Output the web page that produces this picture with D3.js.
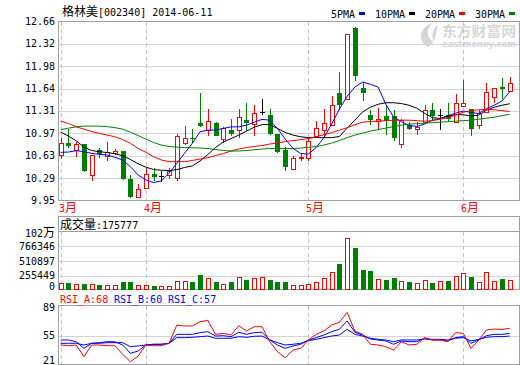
<!DOCTYPE html>
<html><head><meta charset="utf-8">
<script src="https://cdn.jsdelivr.net/npm/d3@7"></script>
<style>body{margin:0;background:#fff}svg{display:block}</style>
</head><body><svg id="c" width="520" height="365"></svg>
<script>
// ---------- data ----------
const openP  = [10.64,10.82,10.71,10.80,10.34,10.71,10.63,10.67,10.70,10.27,10.01,10.14,10.35,10.32,10.33,10.29,10.82,10.90,11.12,11.02,11.13,10.88,11.02,11.02,11.17,11.11,11.29,11.24,10.96,10.71,10.43,10.60,10.60,10.93,11.01,11.10,11.58,11.48,12.56,11.66,11.24,11.15,11.23,11.23,10.80,11.10,11.04,11.14,11.32,11.25,11.25,11.14,11.38,11.34,11.10,11.29,11.52,11.67,11.61];
const highP  = [10.89,11.03,10.84,10.81,10.64,10.74,10.84,10.73,10.70,10.34,10.20,10.44,10.44,10.40,10.44,10.96,11.08,11.03,11.58,11.34,11.14,11.06,11.19,11.34,11.42,11.39,11.48,11.34,10.96,10.76,10.62,10.67,10.90,11.15,11.33,11.53,11.89,12.47,12.58,11.75,11.32,11.35,11.39,11.32,11.19,11.14,11.14,11.39,11.42,11.33,11.43,11.56,11.77,11.34,11.32,11.73,11.66,11.80,11.82];
const lowP   = [10.58,10.75,10.61,10.38,10.24,10.60,10.55,10.64,10.26,9.99,10.01,10.12,10.25,10.23,10.28,10.25,10.79,10.82,11.07,10.93,10.92,10.82,10.93,10.90,11.00,10.92,11.24,10.94,10.67,10.39,10.42,10.55,10.55,10.92,10.92,11.08,11.32,11.48,11.76,11.46,11.09,11.02,10.94,10.85,10.75,11.02,10.94,11.12,11.15,11.02,11.16,11.12,11.37,10.93,11.04,11.27,11.43,11.48,11.59];
const closeP = [10.82,10.78,10.80,10.39,10.64,10.66,10.68,10.70,10.28,10.01,10.12,10.35,10.31,10.32,10.40,10.92,10.89,10.89,11.08,11.16,10.93,11.05,10.96,11.22,11.13,11.28,11.29,10.96,10.68,10.46,10.60,10.61,10.85,11.05,11.13,11.39,11.40,12.47,11.83,11.58,11.17,11.19,11.15,10.90,11.17,11.04,11.07,11.32,11.23,11.25,11.19,11.43,11.42,11.04,11.27,11.59,11.66,11.64,11.73];
const volume = [124700,135000,112600,117800,112600,100400,100400,95200,147200,147200,95200,95200,83100,77900,77900,169700,169700,147200,268400,211300,142000,112600,142000,228600,181800,211300,239000,181800,142000,142000,95200,95200,107400,142000,211300,315200,458900,904000,741200,355000,337700,199200,181800,216500,164500,142000,124700,176600,129900,164500,164500,251100,297900,239000,142000,315200,164500,199200,175777];
const ma5  = [10.679,10.684,10.704,10.689,10.664,10.649,10.639,10.604,10.563,10.462,10.337,10.262,10.221,10.247,10.363,10.513,10.664,10.815,10.990,11.016,11.016,11.041,11.065,11.065,11.091,11.136,11.178,11.166,11.041,10.880,10.740,10.661,10.654,10.752,10.902,11.106,11.332,11.528,11.668,11.743,11.709,11.668,11.407,11.216,11.144,11.086,11.071,11.106,11.166,11.184,11.234,11.272,11.305,11.284,11.267,11.343,11.392,11.456,11.596];
const ma10 = [10.985,10.925,10.854,10.759,10.707,10.689,10.676,10.658,10.627,10.571,10.506,10.455,10.419,10.408,10.402,10.417,10.450,10.473,10.548,10.646,10.752,10.835,10.887,10.940,11.000,11.060,11.098,11.101,11.041,10.981,10.940,10.915,10.902,10.902,10.902,10.902,10.918,11.046,11.166,11.291,11.362,11.407,11.430,11.430,11.418,11.392,11.347,11.272,11.204,11.192,11.227,11.249,11.249,11.227,11.242,11.317,11.362,11.392,11.415];
const ma20 = [11.151,11.116,11.065,11.031,10.993,10.966,10.940,10.915,10.872,10.815,10.740,10.679,10.613,10.563,10.538,10.538,10.538,10.556,10.578,10.598,10.631,10.661,10.699,10.729,10.752,10.767,10.782,10.805,10.820,10.842,10.857,10.872,10.887,10.915,10.948,10.978,11.016,11.053,11.098,11.136,11.144,11.151,11.159,11.166,11.166,11.166,11.159,11.151,11.159,11.181,11.204,11.242,11.287,11.309,11.324,11.327,11.324,11.312,11.297];
const ma30 = [11.023,11.046,11.065,11.076,11.076,11.076,11.068,11.053,11.031,10.985,10.933,10.880,10.827,10.790,10.767,10.759,10.752,10.749,10.744,10.737,10.722,10.707,10.699,10.699,10.707,10.719,10.729,10.737,10.737,10.737,10.737,10.744,10.755,10.767,10.790,10.820,10.857,10.902,10.940,10.970,11.000,11.023,11.046,11.068,11.091,11.106,11.113,11.121,11.129,11.136,11.144,11.151,11.159,11.166,11.181,11.196,11.211,11.234,11.257];
const rsiA = [44.4,43.6,44.4,31.4,44.4,44.4,43.6,43.6,34.0,25.8,32.1,44.4,43.6,43.6,46.3,66.7,65.6,65.6,70.4,71.9,56.3,57.4,55.6,65.9,60.0,64.8,64.8,48.1,37.0,30.3,38.8,40.7,50.0,56.3,60.0,66.7,69.7,80.8,60.0,56.3,45.2,44.4,42.5,38.8,48.1,44.4,45.2,52.6,50.0,50.0,48.1,58.2,57.4,40.7,50.0,61.1,62.2,61.8,63.0];
const rsiB = [50.0,50.0,48.1,40.7,46.3,47.0,48.1,48.1,44.4,35.1,37.7,44.4,45.2,45.2,46.3,56.3,56.3,56.3,58.2,59.3,54.4,54.8,53.7,58.6,56.3,58.2,58.6,50.0,44.4,40.7,43.3,45.2,50.0,52.6,55.6,59.3,61.9,71.2,58.6,55.6,51.1,50.0,48.9,45.2,48.9,48.1,48.1,51.9,50.0,50.0,48.9,52.6,53.7,46.3,50.0,54.8,56.3,56.3,57.4];
const rsiC = [46.3,46.3,46.3,44.4,46.3,46.3,47.0,47.0,47.0,42.5,43.3,44.4,45.2,45.2,46.3,52.6,52.6,53.0,53.7,54.4,51.9,51.9,51.9,53.7,53.0,54.1,54.4,50.0,47.0,44.4,45.2,46.3,49.3,50.7,52.6,54.4,55.6,61.9,56.3,54.4,51.9,50.7,50.0,48.1,50.0,50.0,50.0,51.1,50.7,50.7,50.0,51.9,52.6,48.9,50.7,53.0,53.7,53.7,54.4];
const monthLabels = ["3月","4月","5月","6月"];
const monthStart  = [0,11,32,52];
const priceTickLabels = ["12.66","12.32","11.98","11.64","11.31","10.97","10.63","10.29","9.95"];
const volTickValues = [1021795,766346,510897,255449,0];
const volTickLabels = ["102万","766346","510897","255449","0"];
const rsiTickValues = [89,55,21];
const maNames = ["5PMA","10PMA","20PMA","30PMA"];
const maColors = ["#0000ff","#000000","#ff0000","#008000"];
const titleText = "格林美[002340] 2014-06-11";
const volTitle = "成交量:175777";
const rsiTitles = ["RSI_A:68","RSI_B:60","RSI_C:57"];
const rsiColors = ["#ff0000","#0000ff","#0000ff"];

// ---------- layout ----------
const svg = d3.select("#c");
const L = 58.5, R = 519.5;
const P = {top:21.5, bottom:200.5};
const V = {top:216.5, head:231.5, bottom:289.5};
const S = {top:305.5, bottom:364.5};
const MONO = "'DejaVu Sans Mono', 'Liberation Mono', monospace";
const CJK = "'Noto Sans CJK SC', sans-serif";
const border = "#a0a0a0", grid = "#d4d4d4";

const n = closeP.length;
const x = d3.scaleLinear().domain([0, n-1]).range([60.7, 509.7]);
const yP = d3.scaleLinear().domain([9.95, 12.66]).range([P.bottom, P.top]);
const yV = d3.scaleLinear().domain([0, 1021795]).range([290.5, V.head]);
const yR = d3.scaleLinear().domain([21, 89]).range([366, 305]);

function mixedText(g, str, xx, yy, color, anchor) {
  const t = g.append("text").attr("x", xx).attr("y", yy).attr("fill", color)
    .attr("text-anchor", anchor || "start");
  const runs = str.match(/[\u3000-\u9fff\uff00-\uffef]+|[^\u3000-\u9fff\uff00-\uffef]+/g);
  runs.forEach(r => {
    const cjk = /[\u3000-\u9fff]/.test(r);
    t.append("tspan").text(r)
      .attr("font-family", cjk ? CJK : MONO)
      .attr("font-size", cjk ? 12 : 10);
  });
  return t;
}

svg.append("rect").attr("width",520).attr("height",365).attr("fill","#fff");

// ---------- watermark ----------
const wm = svg.append("g").attr("fill","#d6d6d6");
wm.append("path").attr("d","M428,47 C417,41 419,28 432,23 C426,30 426,38 434,42 C430,34 434,28 438,25 C436,34 436,42 428,47 Z");
wm.append("text").attr("x",442).attr("y",36).attr("font-family",CJK).attr("font-weight","bold").attr("font-size",14)
  .attr("textLength",74).attr("lengthAdjust","spacingAndGlyphs").text("东方财富网");
wm.append("text").attr("x",442).attr("y",47).attr("font-family","'DejaVu Sans', sans-serif").attr("font-weight","bold").attr("font-size",8)
  .attr("textLength",74).attr("lengthAdjust","spacingAndGlyphs").text("eastmoney.com");

// ---------- grid & frames ----------
const gg = svg.append("g").attr("shape-rendering","crispEdges");
priceTickLabels.forEach((lab,i) => {
  if (i===0 || i===priceTickLabels.length-1) return;
  gg.append("line").attr("x1",L).attr("x2",R).attr("y1",Math.round(yP(+lab))+0.5).attr("y2",Math.round(yP(+lab))+0.5).attr("stroke",grid);
});
volTickValues.slice(1,4).forEach(v => {
  gg.append("line").attr("x1",L).attr("x2",R).attr("y1",Math.round(yV(v))+0.5).attr("y2",Math.round(yV(v))+0.5).attr("stroke",grid);
});
gg.append("line").attr("x1",L).attr("x2",R).attr("y1",Math.round(yR(55))+0.5).attr("y2",Math.round(yR(55))+0.5).attr("stroke",grid);
// month dashed lines
monthStart.forEach(mi => {
  const xx = Math.round(x(mi))+0.5;
  [[P.top,P.bottom],[V.head,V.bottom],[S.top,S.bottom]].forEach(([a,b]) => {
    gg.append("line").attr("x1",xx).attr("x2",xx).attr("y1",a).attr("y2",b)
      .attr("stroke","#c4c4c4").attr("stroke-dasharray","4,3");
  });
});
// frames
[[P.top,P.bottom],[V.top,V.bottom],[S.top,S.bottom]].forEach(([a,b]) => {
  gg.append("rect").attr("x",L).attr("y",a).attr("width",R-L).attr("height",b-a)
    .attr("fill","none").attr("stroke",border);
});
gg.append("line").attr("x1",L).attr("x2",R).attr("y1",V.head).attr("y2",V.head).attr("stroke",border);

// ---------- axis labels ----------
const ax = svg.append("g");
priceTickLabels.forEach(lab => {
  ax.append("text").attr("x",55).attr("y",yP(+lab)+3.5).attr("text-anchor","end")
    .attr("font-family",MONO).attr("font-size",10).attr("fill","#000").text(lab);
});
volTickValues.forEach((v,i) => {
  const yy = Math.min(yV(v), 286) + 3.5;
  mixedText(ax, volTickLabels[i], 55, i===0 ? yy+2 : yy, "#000", "end");
});
rsiTickValues.forEach(v => {
  const yy = Math.max(Math.min(yR(v), 360), 307) + 3.5;
  ax.append("text").attr("x",55).attr("y",yy).attr("text-anchor","end")
    .attr("font-family",MONO).attr("font-size",10).attr("fill","#000").text(v);
});
monthLabels.forEach((m,i) => {
  mixedText(ax, m, Math.round(x(monthStart[i]))-2, 212, "#ff0000");
});

// ---------- titles ----------
mixedText(svg, titleText, 62, 16, "#000");
mixedText(svg, volTitle, 60, 229, "#000");
let rx = 60;
rsiTitles.forEach((t,i) => {
  svg.append("text").attr("x",rx).attr("y",303).attr("font-family",MONO).attr("font-size",10)
    .attr("fill",rsiColors[i]).text(t);
  rx += t.length*6 + 6;
});
// legend
let lx = 331;
maNames.forEach((name,i) => {
  svg.append("text").attr("x",lx).attr("y",18).attr("font-family",MONO).attr("font-size",10).attr("fill","#000").text(name);
  lx += name.length*6 + 4;
  svg.append("rect").attr("x",lx).attr("y",12).attr("width",6).attr("height",3).attr("fill",maColors[i]).attr("shape-rendering","crispEdges");
  lx += 16;
});

// ---------- candles ----------
const cg = svg.append("g").attr("shape-rendering","crispEdges");
for (let i=0;i<n;i++){
  const xi = Math.round(x(i));
  const o=openP[i], c=closeP[i], h=highP[i], l=lowP[i];
  const yo=Math.round(yP(o)), yc=Math.round(yP(c)), yh=Math.round(yP(h)), yl=Math.round(yP(l));
  if (c>o) {
    const col="#ff0000";
    cg.append("line").attr("x1",xi+0.5).attr("x2",xi+0.5).attr("y1",yh).attr("y2",yc).attr("stroke",col);
    cg.append("line").attr("x1",xi+0.5).attr("x2",xi+0.5).attr("y1",yo).attr("y2",yl).attr("stroke",col);
    cg.append("rect").attr("x",xi-1.5).attr("y",yc+0.5).attr("width",4).attr("height",Math.max(yo-yc,1))
      .attr("fill","#fff").attr("stroke",col);
  } else if (c<o) {
    const col="#008000";
    cg.append("line").attr("x1",xi+0.5).attr("x2",xi+0.5).attr("y1",yh).attr("y2",yl).attr("stroke",col);
    cg.append("rect").attr("x",xi-2).attr("y",yo).attr("width",5).attr("height",Math.max(yc-yo,1)).attr("fill",col);
  } else {
    const col="#000";
    cg.append("line").attr("x1",xi+0.5).attr("x2",xi+0.5).attr("y1",yh).attr("y2",yl).attr("stroke",col);
    cg.append("line").attr("x1",xi-2).attr("x2",xi+3).attr("y1",yc+0.5).attr("y2",yc+0.5).attr("stroke",col);
  }
  // volume
  const yv = Math.round(yV(volume[i]));
  if (c>=o) {
    cg.append("rect").attr("x",xi-1.5).attr("y",yv+0.5).attr("width",4).attr("height",V.bottom-yv-1)
      .attr("fill","#fff").attr("stroke","#ff0000");
  } else {
    cg.append("rect").attr("x",xi-2).attr("y",yv).attr("width",5).attr("height",V.bottom-yv).attr("fill","#008000");
  }
}

// ---------- MA lines ----------
const lineP = d3.line().x((d,i)=>x(i)).y(d=>yP(d));
[ma5,ma10,ma20,ma30].forEach((arr,k) => {
  svg.append("path").attr("d",lineP(arr)).attr("fill","none").attr("stroke",maColors[k]).attr("stroke-width",1);
});
// ---------- RSI ----------
const lineR = d3.line().x((d,i)=>x(i)).y(d=>yR(d));
[[rsiC,"#0000ff"],[rsiB,"#0000ff"],[rsiA,"#ff0000"]].forEach(([arr,col]) => {
  svg.append("path").attr("d",lineR(arr)).attr("fill","none").attr("stroke",col).attr("stroke-width",1);
});
</script></body></html>
